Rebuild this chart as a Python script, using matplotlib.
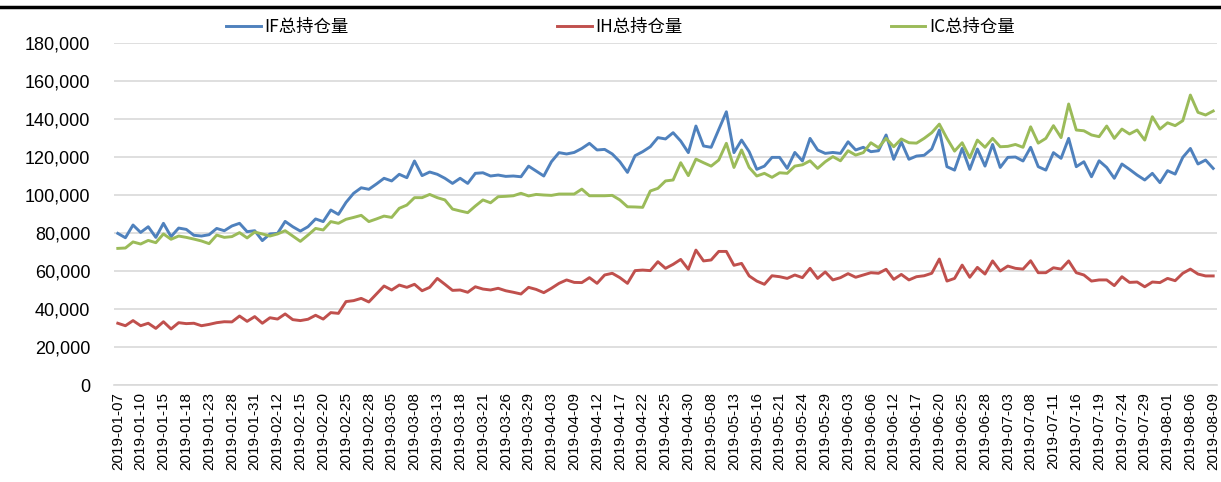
import pandas as pd
import matplotlib
matplotlib.use('Agg')
import matplotlib.pyplot as plt
from matplotlib.lines import Line2D
from matplotlib.ticker import FuncFormatter

plt.rcParams['font.family'] = ['Liberation Sans', 'Noto Sans CJK SC', 'DejaVu Sans']

# trading days 2019-01-07 .. 2019-08-09 (weekdays minus exchange holidays)
holidays = ['2019-02-04', '2019-02-05', '2019-02-06', '2019-02-07', '2019-02-08',
            '2019-04-05', '2019-05-01', '2019-05-02', '2019-05-03', '2019-06-07']
days = pd.bdate_range('2019-01-07', '2019-08-09')
days = days[~days.isin(pd.to_datetime(holidays))]
dates = [d.strftime('%Y-%m-%d') for d in days]

if_oi = [79800, 77500, 84200, 80300, 83300, 77700, 85100, 78100, 82600, 81900,
         78800, 78400, 79100, 82400, 81200, 83700, 85100, 80700, 81200, 76000,
         79500, 79800, 86100, 83300, 81000, 83300, 87400, 86000, 92100, 89800,
         96100, 100900, 103800, 103000, 105800, 108800, 107400, 110900, 109100, 117900,
         110200, 112100, 110900, 108800, 106100, 108800, 106100, 111400, 111700, 110000,
         110500, 109800, 110000, 109600, 115200, 112600, 110000, 117500, 122300, 121600,
         122400, 124500, 127200, 123700, 124000, 121600, 117500, 111900, 120700, 122800,
         125400, 130200, 129500, 132800, 128400, 122300, 136300, 125800, 125100, 134500,
         143800, 122300, 128900, 122800, 113500, 115200, 119800, 119800, 114000, 122400,
         117900, 129800, 123700, 121900, 122400, 121900, 128000, 123700, 125100, 122800,
         123300, 131600, 118800, 127900, 118800, 120500, 120900, 124200, 134200, 114900,
         113100, 124500, 113500, 124200, 115200, 126600, 114500, 119800, 120000, 117900,
         125100, 114900, 113100, 122300, 119300, 129800, 114900, 117500, 109600, 118000,
         114500, 108800, 116300, 113500, 110500, 107900, 111400, 106500, 112800, 111000,
         119800, 124500, 116300, 118400, 114000]

ih_oi = [32500, 31200, 33900, 31200, 32500, 29800, 33300, 29500, 32800, 32300,
         32500, 31200, 31900, 32800, 33300, 33200, 36300, 33500, 36000, 32500,
         35400, 34700, 37400, 34400, 33900, 34600, 36700, 34700, 38100, 37700,
         43900, 44400, 45600, 43700, 47900, 52100, 50000, 52600, 51400, 53000,
         49600, 51400, 56100, 53000, 49800, 50000, 48800, 51700, 50500, 50000,
         50900, 49600, 48800, 47900, 51400, 50300, 48600, 50900, 53500, 55300,
         54000, 53900, 56500, 53500, 57900, 58800, 56500, 53500, 60200, 60500,
         60200, 64900, 61400, 63500, 66100, 60900, 71000, 65300, 65800, 70300,
         70300, 63000, 64000, 57400, 54700, 53000, 57500, 57000, 56100, 57900,
         56500, 61400, 56100, 59500, 55300, 56500, 58600, 56700, 57900, 59100,
         58800, 60900, 55600, 58200, 55300, 57000, 57500, 58800, 66300, 54700,
         56100, 63100, 56700, 61900, 58400, 65300, 60000, 62600, 61400, 61000,
         65400, 59100, 59100, 61700, 61000, 65300, 59100, 57900, 54700, 55300,
         55300, 52300, 57000, 54000, 54200, 51700, 54200, 53900, 56100, 54900,
         58800, 61000, 58400, 57400, 57400]

ic_oi = [71900, 72100, 75300, 74200, 76100, 74900, 79500, 76700, 78400, 77700,
         76800, 75800, 74400, 78900, 77700, 78100, 80200, 77400, 80500, 79500,
         78400, 79500, 81200, 78400, 75600, 78900, 82400, 81600, 86000, 85100,
         87200, 88200, 89300, 86000, 87400, 88900, 88200, 93000, 94700, 98600,
         98600, 100300, 98600, 97400, 92600, 91600, 90700, 94200, 97400, 95900,
         99100, 99300, 99600, 100900, 99500, 100300, 100000, 99800, 100500, 100500,
         100500, 103100, 99600, 99600, 99600, 99800, 97400, 93800, 93700, 93500,
         102100, 103500, 107400, 107900, 117000, 110200, 118900, 117000, 115200, 118400,
         127200, 114500, 123700, 114500, 110000, 111400, 109300, 111700, 111400, 115200,
         115900, 118000, 114000, 117500, 120200, 118000, 123300, 121000, 122300, 127500,
         124900, 129800, 125400, 129500, 127500, 127300, 129800, 132800, 137300, 129800,
         123100, 127500, 119600, 128900, 125100, 129800, 125400, 125600, 126600, 125100,
         135900, 127300, 129800, 136500, 130200, 147900, 134200, 133800, 131600, 130700,
         136300, 129800, 134700, 132100, 134200, 128900, 141200, 134700, 138000, 136500,
         139100, 152600, 143500, 142100, 144200]

df = pd.DataFrame({'IF总持仓量': if_oi, 'IH总持仓量': ih_oi, 'IC总持仓量': ic_oi}, index=dates)
colors = ['#4F81BD', '#C0504D', '#9BBB59']

fig = plt.figure(figsize=(12.21, 4.82), dpi=100)
ax = fig.add_axes([114 / 1221, 97 / 482, 1103 / 1221, 342 / 482])

x = range(len(df))
for col, c in zip(df.columns, colors):
    ax.plot(x, df[col].values, color=c, lw=2.1, label=col, solid_joinstyle='round')

ax.set_xlim(-0.5, len(df) - 0.5)
ax.set_ylim(0, 180000)
ax.set_yticks(range(0, 180001, 20000))
ax.yaxis.set_major_formatter(FuncFormatter(lambda v, p: f'{int(v):,}'))
ax.set_xticks(list(x)[::3])
ax.set_xticklabels(dates[::3], rotation=90, fontsize=11)
ax.tick_params(axis='y', labelsize=13, length=0, pad=17)
ax.tick_params(axis='x', length=0, pad=5)
ax.grid(axis='y', color='#D9D9D9', lw=1.2)
ax.set_axisbelow(True)
for s in ['top', 'right', 'left']:
    ax.spines[s].set_visible(False)
ax.spines['bottom'].set_color('#D9D9D9')
ax.spines['bottom'].set_linewidth(1.2)

fig.legend(loc='center', bbox_to_anchor=(0.508, 0.944), ncol=3, frameon=False,
           columnspacing=12.0, handlelength=2.0, handletextpad=0.2,
           prop={'family': ['Noto Sans CJK SC', 'DejaVu Sans'], 'size': 12.5})

fig.add_artist(Line2D([0, 1], [1 - 7 / 482, 1 - 7 / 482], color='black', lw=2.5,
                      transform=fig.transFigure))

fig.savefig('out.png', dpi=100)
